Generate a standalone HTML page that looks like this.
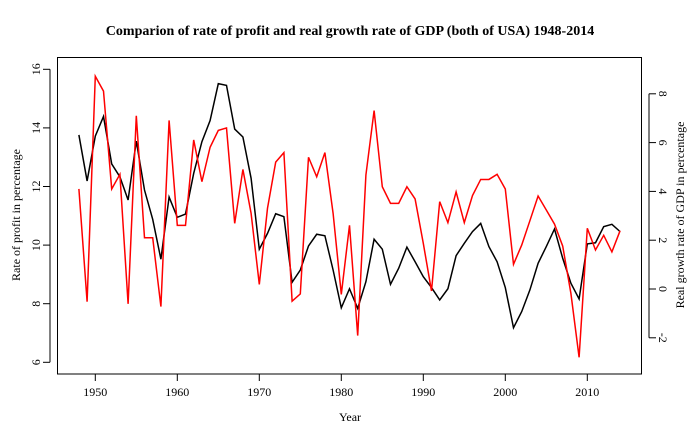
<!DOCTYPE html>
<html><head><meta charset="utf-8"><style>
html,body{margin:0;padding:0;background:#fff;}
svg{display:block;font-family:"Liberation Serif",serif;}
</style></head><body>
<svg id="chart" width="700" height="432" viewBox="0 0 700 432">
<text x="350" y="35" text-anchor="middle" font-size="14" font-weight="bold">Comparion of rate of profit and real growth rate of GDP (both of USA) 1948-2014</text>
<rect x="57.5" y="57.5" width="584" height="316.5" fill="none" stroke="#000" stroke-width="1"/>
<text x="350" y="421" text-anchor="middle" font-size="12">Year</text>
<text transform="translate(20,215) rotate(-90)" text-anchor="middle" font-size="12">Rate of profit in percentage</text>
<text transform="translate(684,215) rotate(-90)" text-anchor="middle" font-size="12">Real growth rate of GDP in percentage</text>
<g id="axes"></g>
<g id="series"></g>
</svg>
<script>
const years = [];
for (let y = 1948; y <= 2014; y++) years.push(y);
const profit = [13.76,12.19,13.72,14.39,12.77,12.33,11.54,13.55,11.88,10.88,9.52,11.64,10.95,11.06,12.45,13.53,14.25,15.51,15.45,13.96,13.69,12.28,9.86,10.40,11.07,10.97,8.73,9.15,9.97,10.37,10.32,9.15,7.86,8.51,7.84,8.75,10.20,9.86,8.66,9.21,9.93,9.43,8.92,8.55,8.13,8.51,9.64,10.06,10.46,10.74,9.95,9.43,8.55,7.18,7.73,8.47,9.38,9.95,10.55,9.55,8.70,8.16,10.04,10.08,10.63,10.71,10.46];
const gdp = [4.10,-0.52,8.72,8.11,4.10,4.70,-0.61,7.10,2.10,2.10,-0.72,6.91,2.61,2.61,6.11,4.40,5.81,6.50,6.60,2.69,4.90,3.10,0.19,3.31,5.20,5.59,-0.50,-0.20,5.40,4.60,5.59,3.10,-0.22,2.61,-1.91,4.67,7.31,4.19,3.51,3.51,4.19,3.69,1.87,-0.08,3.58,2.72,3.98,2.72,3.83,4.49,4.49,4.70,4.10,1.01,1.80,2.80,3.81,3.24,2.66,1.76,-0.18,-2.80,2.49,1.60,2.20,1.52,2.39];
const xTicks = [1950,1960,1970,1980,1990,2000,2010];
const leftTicks = [6,8,10,12,14,16];
const rightTicks = [-2,0,2,4,6,8];

const NS = "http://www.w3.org/2000/svg";
const xS = v => 95.3 + (v - 1950) * 8.2;
const yL = v => 69.3 + (16 - v) * 29.3;
const yR = v => 289 - v * 24.4;
function mk(tag, attrs, parent){const e=document.createElementNS(NS,tag);for(const k in attrs)e.setAttribute(k,attrs[k]);parent.appendChild(e);return e;}
const axes = document.getElementById('axes');
const series = document.getElementById('series');

mk('line',{x1:xS(1950),x2:xS(2010),y1:374,y2:374,stroke:'#000'},axes);
xTicks.forEach(t=>{
  const l=mk('line',{x1:xS(t),x2:xS(t),y1:374,y2:381,stroke:'#000'},axes);
  
  
  const tx=mk('text',{x:xS(t),y:396,'text-anchor':'middle','font-size':12},axes);
  tx.textContent=t;
  
  
});
mk('line',{x1:50,x2:50,y1:yL(6),y2:yL(16),stroke:'#000'},axes);
leftTicks.forEach(t=>{
  const l=mk('line',{x1:43,x2:50,y1:yL(t),y2:yL(t),stroke:'#000'},axes);
  
  
  const tx=mk('text',{transform:`translate(40,${yL(t)}) rotate(-90)`,'text-anchor':'middle','font-size':12},axes);
  tx.textContent=t;
  
  
});
mk('line',{x1:649,x2:649,y1:yR(-2),y2:yR(8),stroke:'#000'},axes);
rightTicks.forEach(t=>{
  const l=mk('line',{x1:649,x2:656,y1:yR(t),y2:yR(t),stroke:'#000'},axes);
  
  
  const tx=mk('text',{transform:`translate(659,${yR(t)}) rotate(90)`,'text-anchor':'middle','font-size':12},axes);
  tx.textContent=t;
  
  
});

const pp=mk('polyline',{points:years.map((y,i)=>xS(y)+','+yL(profit[i])).join(' '),fill:'none',stroke:'#000','stroke-width':1.5},series);


const gp=mk('polyline',{points:years.map((y,i)=>xS(y)+','+yR(gdp[i])).join(' '),fill:'none',stroke:'#ff0000','stroke-width':1.5},series);


</script>
</body></html>
